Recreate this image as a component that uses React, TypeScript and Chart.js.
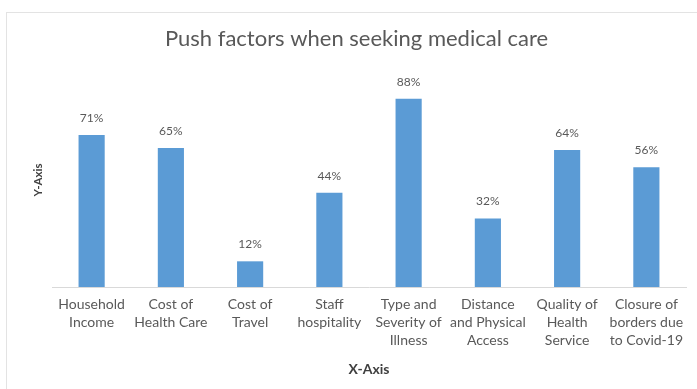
import React, { useEffect, useRef } from "react";
import { Chart, registerables } from "chart.js";

Chart.register(...registerables);

const categories: string[][] = [
  ["Household", "Income"],
  ["Cost of", "Health Care"],
  ["Cost of", "Travel"],
  ["Staff", "hospitality"],
  ["Type and", "Severity of", "Illness"],
  ["Distance", "and Physical", "Access"],
  ["Quality of", "Health", "Service"],
  ["Closure of", "borders due", "to Covid-19"],
];
const values: number[] = [71, 65, 12, 44, 88, 32, 64, 56];
const chartTitle = "Push factors when seeking medical care";
const xTitle = "X-Axis";
const yTitle = "Y-Axis";

const FONT = "Lato, 'Open Sans', sans-serif";
const GRAY = "#595959";

export default function App() {
  const ref = useRef<HTMLCanvasElement | null>(null);
  useEffect(() => {
    if (!ref.current) return;
    const borderPlugin = {
      id: "frame",
      beforeDraw(chart: any) {
        const { ctx } = chart;
        ctx.save();
        ctx.fillStyle = "#ffffff";
        ctx.fillRect(0, 0, chart.width, chart.height);
        ctx.strokeStyle = "#e3e3e3";
        ctx.lineWidth = 1;
        ctx.strokeRect(6.5, 12.5, chart.width, chart.height);
        ctx.restore();
      },
    };
    const labelPlugin = {
      id: "valueLabels",
      afterDatasetsDraw(chart: any) {
        const { ctx } = chart;
        const meta = chart.getDatasetMeta(0);
        ctx.save();
        ctx.fillStyle = GRAY;
        ctx.font = `12px ${FONT}`;
        ctx.textAlign = "center";
        ctx.textBaseline = "middle";
        meta.data.forEach((bar: any, i: number) => {
          ctx.fillText(values[i] + "%", bar.x, bar.y - 17);
        });
        ctx.restore();
      },
    };
    const chart = new Chart(ref.current, {
      type: "bar",
      data: {
        labels: categories,
        datasets: [
          {
            data: values,
            backgroundColor: "#5b9bd5",
            categoryPercentage: 1,
            barPercentage: 0.33,
          },
        ],
      },
      options: {
        animation: false,
        responsive: false,
        maintainAspectRatio: false,
        layout: { padding: { left: 27, right: 11, top: 12, bottom: 7.6 } },
        plugins: {
          legend: { display: false },
          tooltip: { enabled: false },
          title: {
            display: true,
            text: chartTitle,
            color: GRAY,
            font: { family: FONT, size: 22, weight: "normal" },
            padding: { top: 13.8, bottom: 20.8 },
          },
        },
        scales: {
          x: {
            grid: { display: false, drawTicks: false },
            border: { display: true, color: "#d9d9d9" },
            ticks: {
              color: GRAY,
              font: { family: FONT, size: 14, lineHeight: "18px" },
              padding: 8,
              maxRotation: 0,
              autoSkip: false,
            },
            title: {
              display: true,
              text: xTitle,
              color: "#404040",
              font: { family: FONT, size: 14, weight: "bold" },
              padding: { top: 4, bottom: 4 },
            },
            afterFit(scale: any) {
              scale.height = 94.4;
            },
          },
          y: {
            min: 0,
            max: 100,
            grid: { display: false, drawTicks: false },
            border: { display: false },
            ticks: { display: false },
            title: {
              display: true,
              text: yTitle,
              color: "#404040",
              font: { family: FONT, size: 11.5, weight: "bold" },
              padding: { top: 4, bottom: 4 },
            },
            afterFit(scale: any) {
              scale.width = 25;
            },
          },
        },
      },
      plugins: [borderPlugin, labelPlugin],
    } as any);
    return () => chart.destroy();
  }, []);
  return (
    <div style={{ position: "fixed", left: 0, top: 0, width: 697, height: 389, background: "#fff" }}>
      <canvas ref={ref} width={697} height={389} style={{ display: "block" }} />
    </div>
  );
}
